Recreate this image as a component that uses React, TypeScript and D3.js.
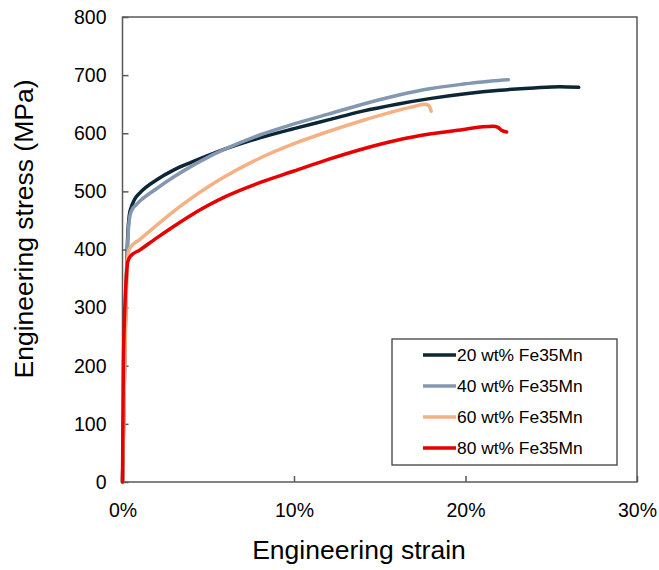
import React, { useRef, useEffect } from 'react';
import * as d3 from 'd3';

// series: [strain %, stress MPa]
const seriesNames = ['20 wt% Fe35Mn', '40 wt% Fe35Mn', '60 wt% Fe35Mn', '80 wt% Fe35Mn'];
const seriesColors = ['#0c2636', '#8497b0', '#f4b183', '#e60000'];

const fe20: [number, number][] = [
  [0, 0], [0.15, 250], [0.3, 420], [0.4, 460], [0.5, 472], [0.7, 486], [1, 497], [2, 520],
  [3, 537], [4, 550], [5, 562], [6, 573], [8, 592], [10, 608], [12, 623], [14, 638], [16, 650],
  [18, 660], [20, 668], [22, 674], [24, 678], [25.5, 680], [26.6, 679],
];
const fe40: [number, number][] = [
  [0, 0], [0.15, 240], [0.3, 410], [0.42, 456], [0.55, 468], [0.8, 477], [1, 483], [2, 505],
  [3, 525], [4, 543], [5, 559], [6, 573], [8, 597], [10, 616], [12, 633], [14, 650], [16, 665],
  [18, 677], [20, 685], [21.5, 690], [22.5, 692],
];
const fe60: [number, number][] = [
  [0, 0], [0.15, 230], [0.3, 385], [0.42, 402], [1, 417], [2, 442], [3, 466], [4, 488],
  [5, 508], [6, 526], [8, 557], [10, 582], [12, 603], [14, 622], [16, 639], [17, 646],
  [17.6, 650], [17.85, 648], [18, 638],
];
const fe80: [number, number][] = [
  [0, 0], [0.05, 200], [0.2, 340], [0.3, 378], [0.45, 388], [1, 399], [2, 420], [3, 440],
  [4, 459], [5, 476], [6, 491], [8, 515], [10, 535], [12, 555], [14, 573], [16, 588],
  [18, 599], [20, 607], [21, 611], [21.6, 612], [21.9, 610], [22.1, 605], [22.4, 602],
];
const allSeries = [fe20, fe40, fe60, fe80];

const xTicks = [0, 10, 20, 30];
const yTicks = [0, 100, 200, 300, 400, 500, 600, 700, 800];

const App = () => {
  const ref = useRef<SVGSVGElement>(null);

  useEffect(() => {
    const width = 659;
    const height = 570;
    const left = 122.5, right = 637, top = 17, bottom = 482;
    const font = 'Liberation Sans, Arial, sans-serif';
    const axisColor = '#595959';

    const svg = d3.select(ref.current);
    svg.selectAll('*').remove();
    svg.attr('width', width).attr('height', height);

    const x = d3.scaleLinear().domain([0, 30]).range([left, right]);
    const y = d3.scaleLinear().domain([0, 800]).range([bottom, top]);

    // y axis, ticks pointing inward
    const gy = svg.append('g')
      .attr('transform', `translate(${left},0)`)
      .call(d3.axisLeft(y).tickValues(yTicks).tickSize(-6).tickSizeOuter(0).tickPadding(16));
    gy.select('.domain').remove();
    gy.selectAll('line').attr('stroke', axisColor).attr('stroke-width', 1.5);
    gy.selectAll('text').style('font-family', font).style('font-size', '19.5px').attr('fill', '#000');

    // x axis
    const gx = svg.append('g')
      .attr('transform', `translate(0,${bottom})`)
      .call(d3.axisBottom(x).tickValues(xTicks).tickSize(-6).tickSizeOuter(0).tickPadding(21)
        .tickFormat(d => `${d}%`));
    gx.select('.domain').remove();
    gx.selectAll('line').attr('stroke', axisColor).attr('stroke-width', 1.5);
    gx.selectAll('text').style('font-family', font).style('font-size', '19.5px').attr('fill', '#000');

    // plot frame
    svg.append('rect')
      .attr('x', left).attr('y', top)
      .attr('width', right - left).attr('height', bottom - top)
      .attr('fill', 'none').attr('stroke', axisColor).attr('stroke-width', 1.5);

    // curves
    const line = d3.line<[number, number]>()
      .x(d => x(d[0]))
      .y(d => y(d[1]))
      .curve(d3.curveMonotoneX);

    allSeries.forEach((s, i) => {
      svg.append('path')
        .datum(s)
        .attr('d', line)
        .attr('fill', 'none')
        .attr('stroke', seriesColors[i])
        .attr('stroke-width', 3.5)
        .attr('stroke-linejoin', 'round')
        .attr('stroke-linecap', 'round');
    });

    // legend
    const lg = svg.append('g');
    lg.append('rect')
      .attr('x', 392).attr('y', 339).attr('width', 225).attr('height', 126)
      .attr('fill', '#fff').attr('stroke', '#404040').attr('stroke-width', 1.3);
    seriesNames.forEach((name, i) => {
      const cy = 355 + i * 31;
      lg.append('line')
        .attr('x1', 423).attr('x2', 456).attr('y1', cy).attr('y2', cy)
        .attr('stroke', seriesColors[i]).attr('stroke-width', 3.5);
      lg.append('text')
        .attr('x', 457).attr('y', cy).attr('dy', '0.35em')
        .style('font-family', font).style('font-size', '17.4px')
        .text(name);
    });

    // axis titles
    svg.append('text')
      .attr('x', 359).attr('y', 559)
      .attr('text-anchor', 'middle')
      .style('font-family', font).style('font-size', '26.5px')
      .text('Engineering strain');

    svg.append('text')
      .attr('transform', 'translate(33,229) rotate(-90)')
      .attr('text-anchor', 'middle')
      .style('font-family', font).style('font-size', '26.5px')
      .text('Engineering stress (MPa)');
  }, []);

  return <svg ref={ref} style={{ position: 'absolute', left: 0, top: 0 }}></svg>;
};

export default App;
